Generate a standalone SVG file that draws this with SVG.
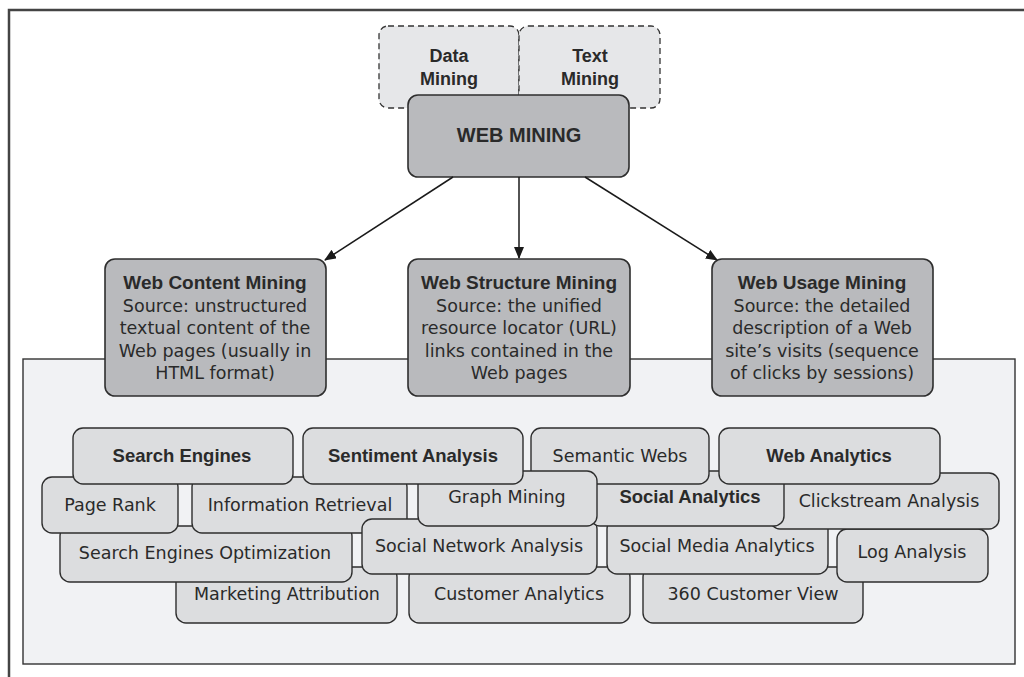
<svg xmlns="http://www.w3.org/2000/svg" width="1024" height="677" viewBox="0 0 1024 677">
<defs>
<marker id="ah" viewBox="0 0 12 10" refX="11" refY="5" markerWidth="12" markerHeight="10" markerUnits="userSpaceOnUse" orient="auto">
<path d="M0,0 L12,5 L0,10 Z" fill="#1a1a1a"/>
</marker>
<style>
.frame{fill:none;stroke:#444;stroke-width:2.5}
.panel{fill:#f1f2f4;stroke:#333;stroke-width:1.4}
.dash{fill:#e6e7e9;stroke:#333;stroke-width:1.3;stroke-dasharray:6 4}
.dark{fill:#b9babd;stroke:#2e2e2e;stroke-width:1.6}
.lt{fill:#dcdddf;stroke:#2e2e2e;stroke-width:1.4}
.b{font-family:"Liberation Sans",Arial,sans-serif;font-weight:bold;fill:#2a2a2a;text-anchor:middle}
.r{font-family:"DejaVu Sans",Verdana,sans-serif;fill:#2a2a2a;text-anchor:middle;font-size:17.5px}
.bt{font-size:18.5px}
.conn line{stroke:#1a1a1a;stroke-width:1.5;marker-end:url(#ah)}
</style>
</defs>
<rect width="1024" height="677" fill="#ffffff"/>
<path class="frame" d="M9,677 V10 H1024"/>
<rect class="panel" x="23" y="359" width="992" height="305"/>

<g id="data-mining"><rect class="dash" x="379" y="26" width="140" height="82" rx="9"/><text class="b" font-size="18" x="449" y="62">Data</text><text class="b" font-size="18" x="449" y="85">Mining</text></g>
<g id="text-mining"><rect class="dash" x="519" y="26" width="141" height="82" rx="9"/><text class="b" font-size="18" x="590" y="62">Text</text><text class="b" font-size="18" x="590" y="85">Mining</text></g>
<g id="web-mining"><rect class="dark" x="408" y="95" width="221" height="82" rx="10"/><text class="b" font-size="20" x="519" y="142">WEB MINING</text></g>

<g id="connectors" class="conn">
<line x1="453" y1="177" x2="325" y2="260"/>
<line x1="519" y1="177" x2="519" y2="258"/>
<line x1="585" y1="177" x2="717" y2="260"/>
</g>

<g id="web-content-mining"><rect class="dark" x="105" y="259" width="221" height="137" rx="10"/>
<text class="b" font-size="19" x="215" y="289">Web Content Mining</text>
<text class="r" x="215" y="311.5">Source: unstructured</text>
<text class="r" x="215" y="334">textual content of the</text>
<text class="r" x="215" y="356.5">Web pages (usually in</text>
<text class="r" x="215" y="379">HTML format)</text></g>
<g id="web-structure-mining"><rect class="dark" x="408" y="259" width="222" height="137" rx="10"/>
<text class="b" font-size="19" x="519" y="289">Web Structure Mining</text>
<text class="r" x="519" y="311.5">Source: the unified</text>
<text class="r" x="519" y="334">resource locator (URL)</text>
<text class="r" x="519" y="356.5">links contained in the</text>
<text class="r" x="519" y="379">Web pages</text></g>
<g id="web-usage-mining"><rect class="dark" x="712" y="259" width="221" height="137" rx="10"/>
<text class="b" font-size="19" x="822" y="289">Web Usage Mining</text>
<text class="r" x="822" y="311.5">Source: the detailed</text>
<text class="r" x="822" y="334">description of a Web</text>
<text class="r" x="822" y="356.5">site’s visits (sequence</text>
<text class="r" x="822" y="379">of clicks by sessions)</text></g>

<g id="marketing-attribution"><rect class="lt" x="176" y="567" width="221" height="56" rx="10"/><text class="r" x="287" y="600">Marketing Attribution</text></g>
<g id="customer-analytics"><rect class="lt" x="409" y="567" width="221" height="56" rx="10"/><text class="r" x="519" y="600">Customer Analytics</text></g>
<g id="customer-view-360"><rect class="lt" x="643" y="567" width="220" height="56" rx="10"/><text class="r" x="753" y="600">360 Customer View</text></g>

<g id="seo"><rect class="lt" x="60" y="526" width="292" height="56" rx="10"/><text class="r" x="205" y="559">Search Engines Optimization</text></g>
<g id="social-media-analytics"><rect class="lt" x="607" y="519" width="221" height="55" rx="10"/><text class="r" x="717" y="552">Social Media Analytics</text></g>
<g id="log-analysis"><rect class="lt" x="837" y="529" width="151" height="53" rx="10"/><text class="r" x="912" y="558">Log Analysis</text></g>

<g id="page-rank"><rect class="lt" x="42" y="477" width="136" height="56" rx="10"/><text class="r" x="110" y="511">Page Rank</text></g>
<g id="information-retrieval"><rect class="lt" x="192" y="477" width="215" height="56" rx="10"/><text class="r" x="300" y="511">Information Retrieval</text></g>

<g id="social-network-analysis"><rect class="lt" x="362" y="519" width="235" height="55" rx="10"/><text class="r" x="479" y="552">Social Network Analysis</text></g>

<g id="clickstream-analysis"><rect class="lt" x="770" y="473" width="229" height="56" rx="10"/><text class="r" x="889" y="507">Clickstream Analysis</text></g>
<g id="social-analytics"><rect class="lt" x="590" y="471" width="194" height="55" rx="10"/><text class="b bt" x="690" y="503">Social Analytics</text></g>
<g id="semantic-webs"><rect class="lt" x="531" y="428" width="178" height="56" rx="10"/><text class="r" x="620" y="462">Semantic Webs</text></g>
<g id="graph-mining"><rect class="lt" x="418" y="471" width="179" height="55" rx="10"/><text class="r" x="507" y="503">Graph Mining</text></g>

<g id="search-engines"><rect class="lt" x="73" y="428" width="220" height="56" rx="10"/><text class="b bt" x="182" y="462">Search Engines</text></g>
<g id="sentiment-analysis"><rect class="lt" x="303" y="428" width="220" height="56" rx="10"/><text class="b bt" x="413" y="462">Sentiment Analysis</text></g>
<g id="web-analytics"><rect class="lt" x="719" y="428" width="221" height="56" rx="10"/><text class="b bt" x="829" y="462">Web Analytics</text></g>
</svg>
